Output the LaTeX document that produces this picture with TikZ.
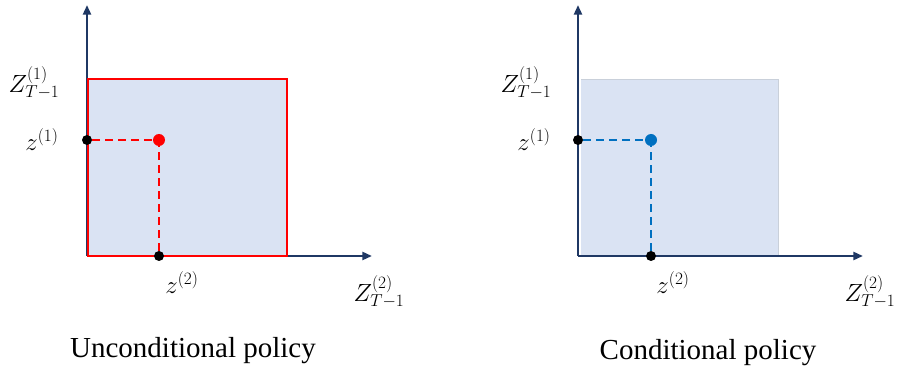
\documentclass[tikz,border=0pt]{standalone}
\usepackage{fontspec}
\setmainfont{Liberation Serif}
\usepackage{tikz}
\usetikzlibrary{arrows.meta,positioning}
\definecolor{ppaxis}{HTML}{1F3864}
\definecolor{ppfill}{HTML}{DAE3F3}
\definecolor{ppred}{HTML}{FF0000}
\definecolor{ppblue}{HTML}{0070C0}
\definecolor{ppedge}{HTML}{C9D0DA}
\tikzset{
  ppaxis/.style={
    -{Triangle[length=3.4mm,width=2.8mm]},
    line width=2.6pt,
    color=ppaxis
  },
  ppdot/.style={circle, fill=black, inner sep=0pt, minimum size=10pt},
  ppguide/.style={dash pattern=on 8pt off 5pt, line width=2.6pt},
  pplabel/.style={font=\fontsize{24}{26}\selectfont, inner sep=0pt},
  ppcaption/.style={font=\fontsize{29}{33}\selectfont, inner sep=0pt}
}
\begin{document}
\begin{tikzpicture}[x=1pt,y=-1pt]
  \useasboundingbox (0,0) rectangle (898,374);

  % unconditional policy
  \coordinate (lo) at (87,256);
  \fill[ppfill] (88,79) rectangle (287,256);
  \draw[ppaxis] (lo) -- (87,5);
  \draw[ppaxis] (lo) -- (372,256);
  \draw[ppred, line width=2.2pt] (88,79) rectangle (287,256);
  \node[circle, fill=ppred, inner sep=0pt, minimum size=12pt] (lpt) at (159,140) {};
  \node[ppdot] (ly) at (87,140) {};
  \node[ppdot] (lx) at (159,256) {};
  \draw[ppguide, ppred] (ly) -- (lpt);
  \draw[ppguide, ppred] (lx) -- (lpt);
  \node[pplabel] (lZy) at (34,83) {$Z^{(1)}_{T-1}$};
  \node[pplabel] (lzy) at (42,140) {$z^{(1)}$};
  \node[pplabel] (lzx) at (182,283) {$z^{(2)}$};
  \node[pplabel] (lZx) at (379,292) {$Z^{(2)}_{T-1}$};
  \node[ppcaption] (lcap) at (193,351) {Unconditional policy};

  % conditional policy
  \coordinate (ro) at (578,256);
  \fill[ppfill] (581,79) rectangle (778,256);
  \draw[ppedge, line width=0.5pt] (581,79) -- (778,79) -- (778,256);
  \draw[ppaxis] (ro) -- (578,5);
  \draw[ppaxis] (ro) -- (863,256);
  \node[circle, fill=ppblue, inner sep=0pt, minimum size=12pt] (rpt) at (651,140) {};
  \node[ppdot] (ry) at (578,140) {};
  \node[ppdot] (rx) at (651,256) {};
  \draw[ppguide, ppblue] (ry) -- (rpt);
  \draw[ppguide, ppblue] (rx) -- (rpt);
  \node[pplabel] (rZy) at (526,83) {$Z^{(1)}_{T-1}$};
  \node[pplabel] (rzy) at (534,140) {$z^{(1)}$};
  \node[pplabel] (rzx) at (673,283) {$z^{(2)}$};
  \node[pplabel] (rZx) at (870,292) {$Z^{(2)}_{T-1}$};
  \node[ppcaption] (rcap) at (708,353) {Conditional policy};
\end{tikzpicture}
\end{document}
